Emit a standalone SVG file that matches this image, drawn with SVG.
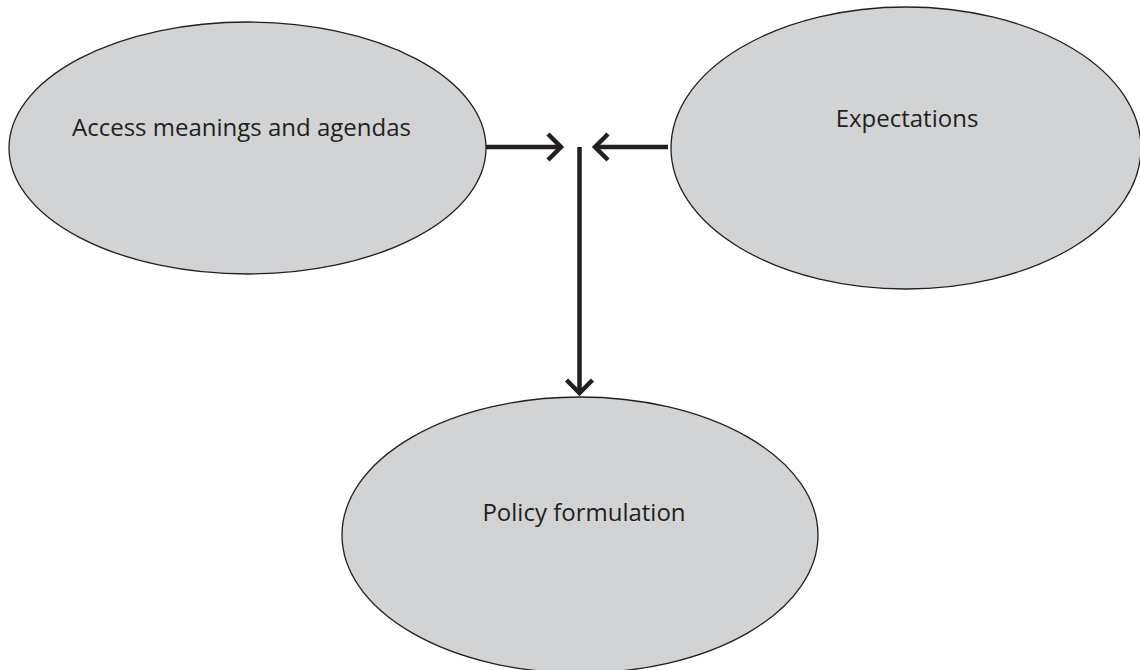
<svg xmlns="http://www.w3.org/2000/svg" width="1140" height="670" viewBox="0 0 1140 670">
<style>
.node{fill:#d2d3d5;stroke:#231f20;stroke-width:1.3}
.lbl{font-family:"Open Sans","Liberation Sans",sans-serif;font-size:24px;fill:#231f20;text-anchor:middle}
.conn{stroke:#231f20;stroke-width:4.5;fill:none}
</style>
<rect width="1140" height="670" fill="#ffffff"/>
<g id="node-access">
<ellipse class="node" cx="247.5" cy="148" rx="238.5" ry="126"/>
<text class="lbl" x="241.5" y="136">Access meanings and agendas</text>
</g>
<g id="node-expectations">
<ellipse class="node" cx="906" cy="148" rx="235" ry="141"/>
<text class="lbl" x="907" y="127">Expectations</text>
</g>
<g id="node-policy">
<ellipse class="node" cx="580" cy="535" rx="238" ry="138"/>
<text class="lbl" x="584" y="521">Policy formulation</text>
</g>
<g id="connectors">
<line class="conn" x1="486" y1="147" x2="561" y2="147"/>
<polyline class="conn" points="548,134 561,147 548,160"/>
<line class="conn" x1="668" y1="147" x2="595" y2="147"/>
<polyline class="conn" points="608,134 595,147 608,160"/>
<line class="conn" x1="579.5" y1="147" x2="579.5" y2="392"/>
<polyline class="conn" points="566.5,380 579.5,393 592.5,380"/>
</g>
</svg>
